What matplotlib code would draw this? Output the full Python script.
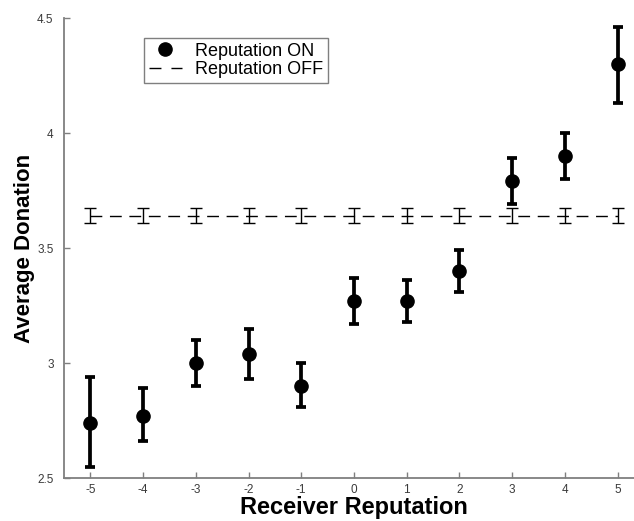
import matplotlib
matplotlib.use('Agg')
import matplotlib.pyplot as plt
from matplotlib.lines import Line2D

plt.rcParams['font.family'] = ['Liberation Sans', 'DejaVu Sans']

# ── Data ──────────────────────────────────────────────────────────────────────
reputation = [-5, -4, -3, -2, -1, 0, 1, 2, 3, 4, 5]
on_mean  = [2.74, 2.77, 3.00, 3.04, 2.90, 3.27, 3.27, 3.40, 3.79, 3.90, 4.30]
on_upper = [2.94, 2.89, 3.10, 3.15, 3.00, 3.37, 3.36, 3.49, 3.89, 4.00, 4.46]
on_lower = [2.55, 2.66, 2.90, 2.93, 2.81, 3.17, 3.18, 3.31, 3.69, 3.80, 4.13]
off_mean = [3.64] * 11
off_err  = [0.033] * 11

y_ticks = [2.5, 3, 3.5, 4, 4.5]
y_tick_labels = ["2.5", "3", "3.5", "4", "4.5"]

SPINE = "#7f7f7f"
TICKTXT = "#3a3a3a"

on_err = [[m - lo for m, lo in zip(on_mean, on_lower)],
          [hi - m for m, hi in zip(on_mean, on_upper)]]

fig = plt.figure(figsize=(6.34, 5.21), dpi=100)
ax = fig.add_axes([0.1009, 0.0825, 0.9148, 0.8829])

# Reputation OFF: thin dashed line with small caps
ax.errorbar(reputation, off_mean, yerr=off_err, color="black", linewidth=1.0,
            linestyle=(0, (8.5, 5.5)), elinewidth=1.0, capsize=4, capthick=1.0,
            zorder=2)

# Reputation ON: thick error bars with filled dots
ax.errorbar(reputation, on_mean, yerr=on_err, fmt="o", color="black",
            markersize=9.5, elinewidth=2.7, capsize=3.6, capthick=2.7, zorder=3)

ax.set_xlim(-5.5, 5.5)
ax.set_ylim(2.5, 4.5)
ax.set_xticks(reputation)
ax.set_xticklabels([str(r) for r in reputation])
ax.set_yticks(y_ticks)
ax.set_yticklabels(y_tick_labels)

for side in ["top", "right"]:
    ax.spines[side].set_visible(False)
for side in ["left", "bottom"]:
    ax.spines[side].set_color(SPINE)
    ax.spines[side].set_linewidth(1.3)

ax.tick_params(direction="in", length=4, width=1, color=SPINE,
               labelcolor=TICKTXT, labelsize=8.5)
ax.tick_params(axis="y", pad=7.5)
ax.tick_params(axis="x", pad=4)

ax.set_xlabel("Receiver Reputation", fontsize=17, fontweight="bold", labelpad=0)
ax.set_ylabel("Average Donation", fontsize=16, fontweight="bold", labelpad=1.5)

handles = [
    Line2D([], [], marker="o", linestyle="none", color="black", markersize=9.5),
    Line2D([], [], color="black", linewidth=1.0, linestyle=(0, (8.6, 7.2))),
]
leg = ax.legend(handles, ["Reputation ON", "Reputation OFF"],
                loc="upper left", bbox_to_anchor=(144 / 634, 1 - 38 / 521),
                bbox_transform=fig.transFigure, fontsize=13, fancybox=False,
                framealpha=1, edgecolor=SPINE, handlelength=1.88,
                handletextpad=0.7, borderpad=0.25, labelspacing=0.1,
                borderaxespad=0)
leg.get_frame().set_linewidth(1.0)

fig.savefig("out.png", dpi=100)
